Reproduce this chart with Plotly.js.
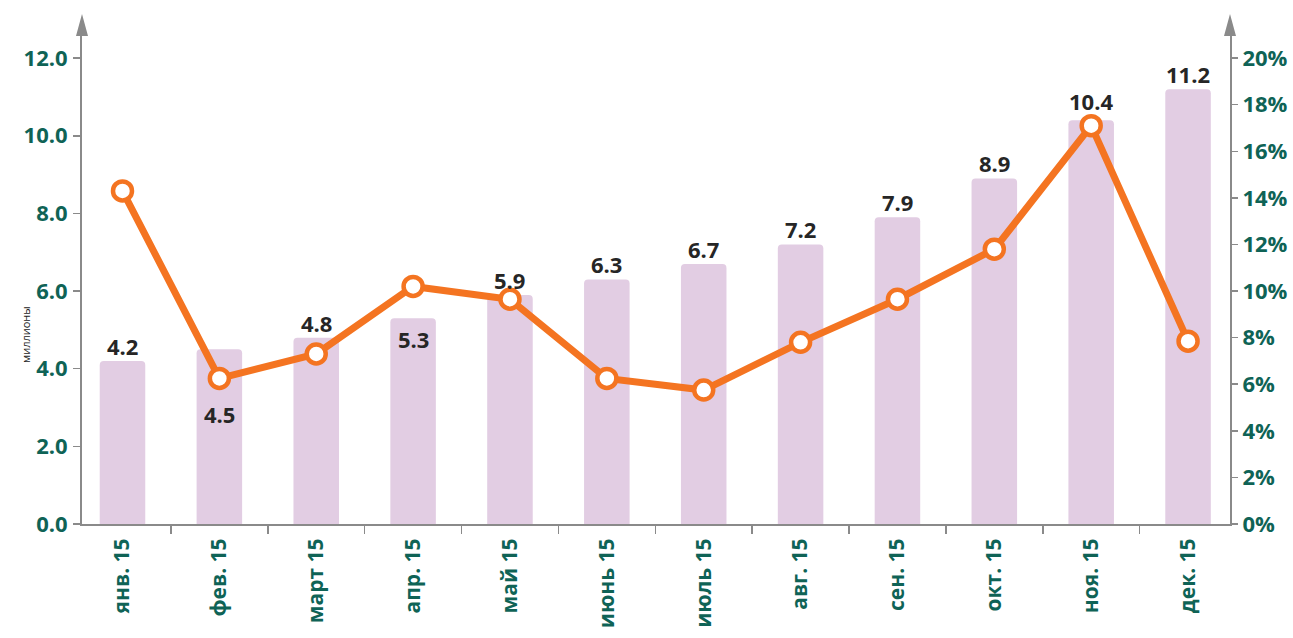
<!DOCTYPE html>
<html><head><meta charset="utf-8">
<script src="https://cdn.plot.ly/plotly-3.0.1.min.js"></script>
<style>html,body{margin:0;padding:0;background:#fff}</style>
</head><body>
<div id="chart" style="width:1293px;height:638px"></div>
<script>
var months = ['янв. 15','фев. 15','март 15','апр. 15','май 15','июнь 15','июль 15','авг. 15','сен. 15','окт. 15','ноя. 15','дек. 15'];
var volumes = [4.2, 4.5, 4.8, 5.3, 5.9, 6.3, 6.7, 7.2, 7.9, 8.9, 10.4, 11.2];
var growthPct = [14.3, 6.25, 7.3, 10.2, 9.65, 6.25, 5.75, 7.8, 9.65, 11.8, 17.1, 7.85];
var leftTicks = [0, 2, 4, 6, 8, 10, 12];
var rightTicks = [0, 2, 4, 6, 8, 10, 12, 14, 16, 18, 20];

var teal = '#0f6356', axisGray = '#8a8a8a';
var yMax = 12.57, y2Max = yMax / 12 * 20;
var fam = '"Open Sans", Lato, sans-serif';

var bars = {
  type: 'bar', x: months, y: volumes, width: 0.47,
  marker: {color: '#e2cde3', cornerradius: 4}, hoverinfo: 'skip'
};
var line = {
  type: 'scatter', mode: 'lines+markers', x: months, y: growthPct, yaxis: 'y2',
  line: {color: '#f47421', width: 7},
  marker: {size: 19, color: '#ffffff', line: {color: '#f47421', width: 4.5}},
  hoverinfo: 'skip'
};

// per-label vertical adjustment (px) where the line marker sits on top of the bar
var labelShift = {1: -80, 3: -36, 10: 4};
var annotations = volumes.map(function (v, i) {
  return {
    x: months[i], y: v, xref: 'x', yref: 'y', yanchor: 'bottom',
    text: v.toFixed(1), showarrow: false, yshift: (labelShift[i] || 0) - 2,
    font: {family: fam, size: 22, color: '#262626', weight: 700}
  };
});
annotations.push({
  xref: 'paper', yref: 'paper', x: 0, y: 0.326, xshift: -66, textangle: -90,
  text: 'миллионы', showarrow: false,
  font: {family: fam, size: 11, color: '#222'}
});

var arrow = function (xa) {
  return {
    type: 'path', xref: 'paper', yref: 'paper', xsizemode: 'pixel', ysizemode: 'pixel',
    xanchor: xa, yanchor: 1, path: 'M -6 0 L 6 0 L 0 22 Z',
    fillcolor: axisGray, line: {width: 0}
  };
};

var tickFont = {family: fam, size: 22, color: teal, weight: 700};
var xTickFont = {family: fam, size: 21, color: teal, weight: 700};

var layout = {
  width: 1293, height: 638,
  margin: {l: 82, r: 63, t: 36, b: 114},
  paper_bgcolor: '#fff', plot_bgcolor: '#fff',
  showlegend: false,
  xaxis: {
    type: 'category', range: [-0.418, 11.433],
    showline: true, linecolor: axisGray, linewidth: 2,
    ticks: 'outside', tickson: 'boundaries', ticklen: 8, tickcolor: axisGray, tickwidth: 1.5,
    tickangle: -90, tickfont: xTickFont, ticklabelstandoff: 4,
    showgrid: false, zeroline: false, fixedrange: true
  },
  yaxis: {
    range: [0, yMax], tickvals: leftTicks, ticktext: leftTicks.map(function (t) { return t.toFixed(1); }),
    showline: true, linecolor: axisGray, linewidth: 2,
    ticks: 'outside', ticklen: 7, tickcolor: axisGray, tickwidth: 1.5, ticklabelstandoff: 1,
    tickfont: tickFont, showgrid: false, zeroline: false
  },
  yaxis2: {
    overlaying: 'y', side: 'right', range: [0, y2Max],
    tickvals: rightTicks, ticktext: rightTicks.map(function (t) { return t + '%'; }),
    showline: true, linecolor: axisGray, linewidth: 2,
    ticks: 'outside', ticklen: 6, tickcolor: axisGray, tickwidth: 1.5,
    tickfont: tickFont, showgrid: false, zeroline: false
  },
  annotations: annotations,
  shapes: [arrow(0), arrow(1)]
};

Plotly.newPlot('chart', [bars, line], layout, {staticPlot: true});
</script>
</body></html>
